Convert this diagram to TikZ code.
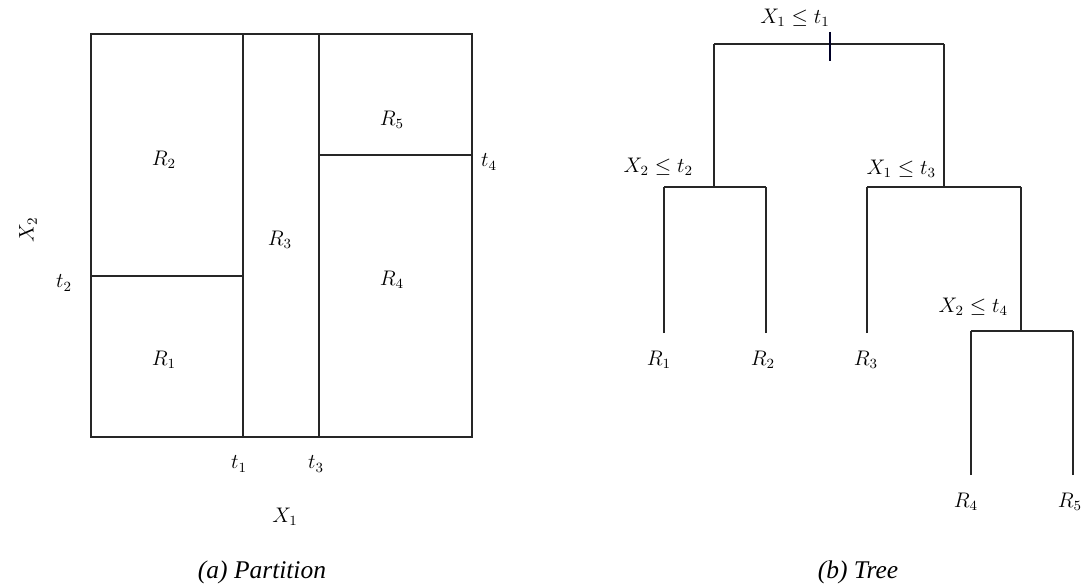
\documentclass[tikz,border=0pt]{standalone}
\usepackage{amsmath,amssymb}
\usepackage{fontspec}
\newfontfamily\capfont{Liberation Serif}
\usetikzlibrary{positioning}
\tikzset{
  ln/.style={line width=0.75pt,black!85},
  lbl/.style={font=\fontsize{12}{14}\selectfont,inner sep=1pt},
  splbl/.style={lbl,anchor=south east},
  captxt/.style={font=\capfont\itshape\fontsize{14.5}{17}\selectfont,inner sep=1pt},
}
\begin{document}
\begin{tikzpicture}[x=0.02cm,y=-0.02cm]
\useasboundingbox (0,0) rectangle (1081,587);
% (a) partition of the plane
\coordinate (pNW) at (91,34);
\coordinate (pSE) at (472,437);
\draw[ln] (pNW) rectangle (pSE);
\coordinate (s1) at (243,437);
\coordinate (s3) at (319,437);
\coordinate (s2) at (91,276);
\coordinate (s4) at (472,155);
\draw[ln] (s1) -- (s1 |- pNW);
\draw[ln] (s3) -- (s3 |- pNW);
\draw[ln] (s2) -- (s2 -| s1);
\draw[ln] (s4) -- (s4 -| s3);
\foreach \n/\x/\y in {1/164/360,2/164/160,3/280/240,4/392/280,5/392/120}
  \node[lbl] (pR\n) at (\x,\y) {$R_\n$};
\node[lbl] (t1) at (239,464) {$t_1$};
\node[lbl] (t3) at (316,464) {$t_3$};
\node[lbl] (t2) at (64,283) {$t_2$};
\node[lbl] (t4) at (489,162) {$t_4$};
\node[lbl] (X1) at (285,517) {$X_1$};
\node[lbl,rotate=90] (X2) at (28,230) {$X_2$};
\node[captxt] (capA) at (262,572) {(a) Partition};
% (b) the tree
\coordinate (n1) at (830,44);
\coordinate (n2) at (714,187);
\coordinate (n3) at (944,187);
\coordinate (n4) at (1021,331);
\foreach \nd/\l/\r in {n1/714/944,n2/664/766,n3/867/1021,n4/971/1073}{
  \draw[ln] (\l,0 |- \nd) -- (\r,0 |- \nd);}
\draw[ln] (n2) -- (n2 |- n1);
\draw[ln] (n3) -- (n3 |- n1);
\draw[ln] (n4) -- (n4 |- n3);
\draw[line width=1.1pt,black!85!blue] (830,32) coordinate (tk) -- (830,61);
\node[splbl] (c1) at ([xshift=1pt,yshift=2pt]tk) {$X_1\leq t_1$};
\node[splbl] (c2) at (695,178) {$X_2\leq t_2$};
\node[splbl] (c3) at (938,180) {$X_1\leq t_3$};
\node[splbl] (c4) at (1010,318) {$X_2\leq t_4$};
% leaves
\foreach \n/\x/\y/\px/\nd in {1/664/333/659/n2,2/766/333/763/n2,3/867/333/866/n3,4/971/475/966/n4,5/1073/475/1070/n4}{
  \coordinate (e\n) at (\x,\y);
  \draw[ln] (e\n) -- (e\n |- \nd);
  \node[lbl] (R\n) at (\px,\y+27) {$R_\n$};}
\node[captxt] (capB) at (858,572) {(b) Tree};
\end{tikzpicture}
\end{document}
